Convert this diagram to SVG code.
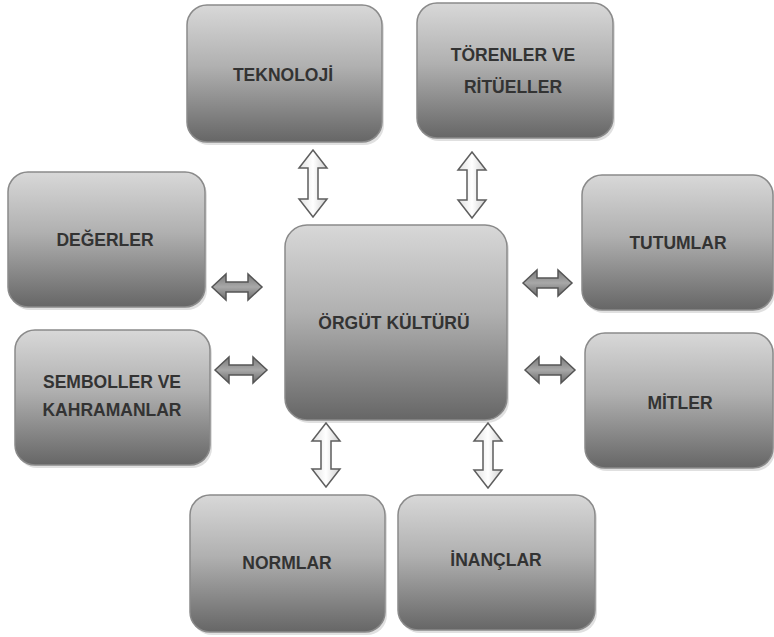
<svg xmlns="http://www.w3.org/2000/svg" width="774" height="637" viewBox="0 0 774 637">
<defs>
<linearGradient id="g" x1="0" y1="0" x2="0" y2="1">
<stop offset="0" stop-color="#d8d8d8"/>
<stop offset="0.45" stop-color="#b0b0b0"/>
<stop offset="1" stop-color="#666666"/>
</linearGradient>
<linearGradient id="ah" x1="0" y1="0" x2="0" y2="1">
<stop offset="0" stop-color="#7a7a7a"/>
<stop offset="0.5" stop-color="#a8a8a8"/>
<stop offset="1" stop-color="#6a6a6a"/>
</linearGradient>
<linearGradient id="av" x1="0" y1="0" x2="1" y2="0">
<stop offset="0" stop-color="#e0e0e0"/>
<stop offset="0.5" stop-color="#ffffff"/>
<stop offset="1" stop-color="#d0d0d0"/>
</linearGradient>
</defs>
<style>
.box{fill:url(#g);stroke:#8a8a8a;stroke-width:1.5}
.sh{fill:#000;opacity:0.12}
.t{font-family:"Liberation Sans","DejaVu Sans",sans-serif;font-weight:bold;font-size:17.5px;fill:#333;text-anchor:middle}
.ah{fill:url(#ah);stroke:#555;stroke-width:1.5}
.av{fill:url(#av);stroke:#5e5e5e;stroke-width:1.5}
</style>
<rect width="774" height="637" fill="#fff"/>
<g id="teknoloji">
<rect class="sh" x="189" y="8" width="195" height="137" rx="20"/>
<rect class="box" x="187" y="5" width="195" height="137" rx="20"/>
<text class="t" x="283" y="81">TEKNOLOJİ</text>
</g>
<g id="torenler">
<rect class="sh" x="419" y="6" width="196" height="135" rx="20"/>
<rect class="box" x="417" y="3" width="196" height="135" rx="20"/>
<text class="t" x="513" y="61">TÖRENLER VE</text>
<text class="t" x="513" y="93">RİTÜELLER</text>
</g>
<g id="degerler">
<rect class="sh" x="10" y="175" width="197" height="135" rx="20"/>
<rect class="box" x="8" y="172" width="197" height="135" rx="20"/>
<text class="t" x="105" y="246">DEĞERLER</text>
</g>
<g id="semboller">
<rect class="sh" x="17" y="333" width="195" height="135" rx="20"/>
<rect class="box" x="15" y="330" width="195" height="135" rx="20"/>
<text class="t" x="112" y="388">SEMBOLLER VE</text>
<text class="t" x="112" y="416">KAHRAMANLAR</text>
</g>
<g id="orgut">
<rect class="sh" x="287" y="228" width="222" height="195" rx="22"/>
<rect class="box" x="285" y="225" width="222" height="195" rx="22"/>
<text class="t" x="394" y="329">ÖRGÜT KÜLTÜRÜ</text>
</g>
<g id="tutumlar">
<rect class="sh" x="584" y="178" width="191" height="135" rx="20"/>
<rect class="box" x="582" y="175" width="191" height="135" rx="20"/>
<text class="t" x="678" y="249">TUTUMLAR</text>
</g>
<g id="mitler">
<rect class="sh" x="587" y="336" width="188" height="135" rx="20"/>
<rect class="box" x="585" y="333" width="188" height="135" rx="20"/>
<text class="t" x="680" y="409">MİTLER</text>
</g>
<g id="normlar">
<rect class="sh" x="192" y="498" width="195" height="137" rx="20"/>
<rect class="box" x="190" y="495" width="195" height="137" rx="20"/>
<text class="t" x="287" y="569">NORMLAR</text>
</g>
<g id="inanclar">
<rect class="sh" x="400" y="498" width="197" height="135" rx="20"/>
<rect class="box" x="398" y="495" width="197" height="135" rx="20"/>
<text class="t" x="496" y="566">İNANÇLAR</text>
</g>
<g id="connectors">
<path class="av" d="M313,150 L327,168 L318,168 L318,199 L327,199 L313,217 L299,199 L308,199 L308,168 L299,168 Z"/>
<path class="av" d="M472,152 L486,170 L477,170 L477,200 L486,200 L472,218 L458,200 L467,200 L467,170 L458,170 Z"/>
<path class="av" d="M326,423 L340,441 L331,441 L331,469 L340,469 L326,487 L312,469 L321,469 L321,441 L312,441 Z"/>
<path class="av" d="M488,423 L502,441 L493,441 L493,470 L502,470 L488,488 L474,470 L483,470 L483,441 L474,441 Z"/>
<path class="ah" d="M212,287 L226,274 L226,282 L248,282 L248,274 L262,287 L248,300 L248,292 L226,292 L226,300 Z"/>
<path class="ah" d="M215,370 L229,357 L229,365 L253,365 L253,357 L267,370 L253,383 L253,375 L229,375 L229,383 Z"/>
<path class="ah" d="M523,283 L537,270 L537,278 L558,278 L558,270 L572,283 L558,296 L558,288 L537,288 L537,296 Z"/>
<path class="ah" d="M525,370 L539,357 L539,365 L561,365 L561,357 L575,370 L561,383 L561,375 L539,375 L539,383 Z"/>
</g>
</svg>
